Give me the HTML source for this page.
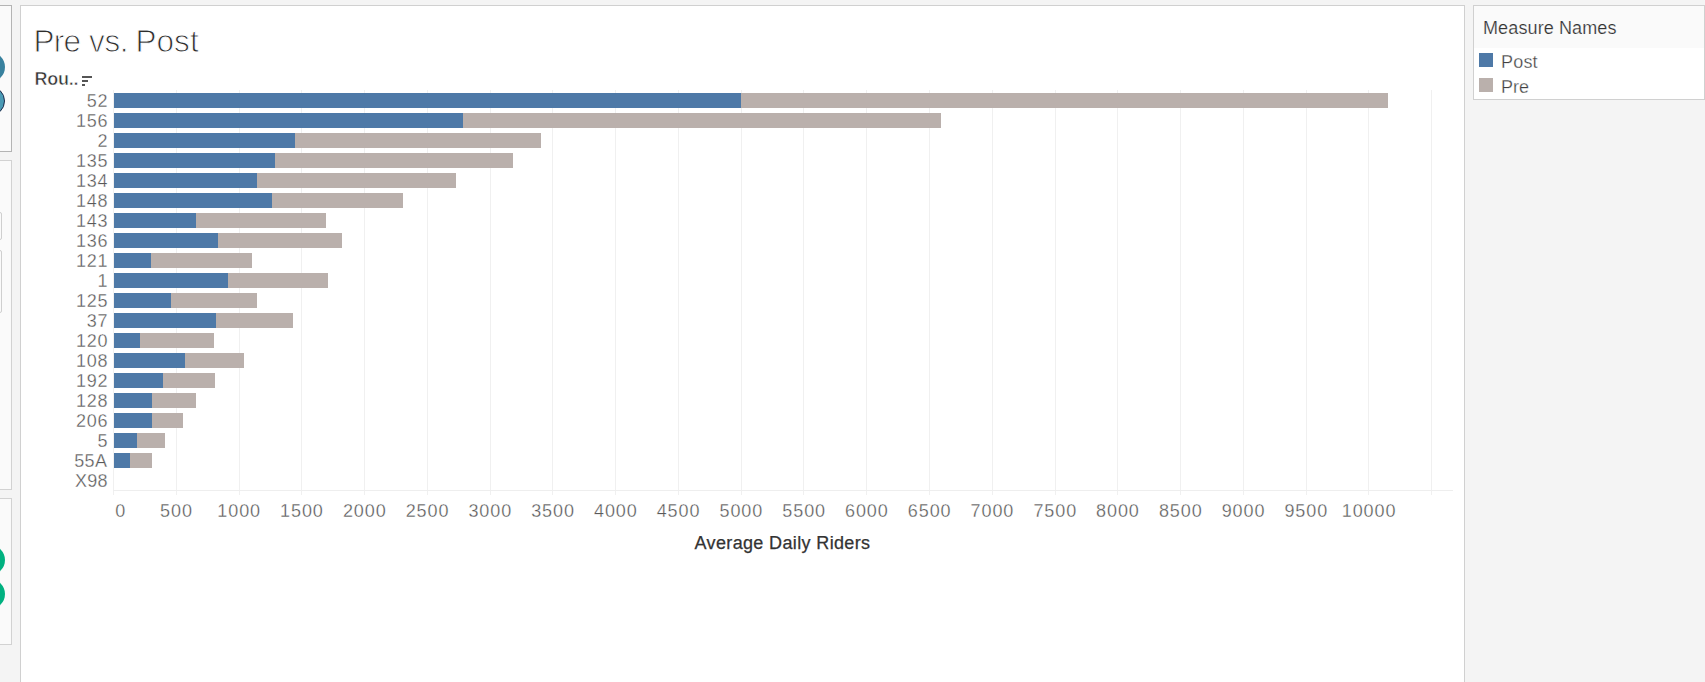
<!DOCTYPE html>
<html><head><meta charset="utf-8"><title>Pre vs. Post</title>
<style>
html,body{margin:0;padding:0;}
body{width:1705px;height:682px;overflow:hidden;background:#f4f4f4;position:relative;font-family:"Liberation Sans",sans-serif;}
div,span{position:absolute;box-sizing:border-box;white-space:nowrap;}
.lp{background:#fafafa;border:1px solid #d2d2d2;border-left:none;left:0;width:12px;}
.main{left:20px;top:5px;width:1445px;height:690px;background:#fff;border:1px solid #d0d0d0;}
.g{width:1px;top:90px;height:405px;background:#f0f0f0;}
.b{height:15px;background:#4e79a7;left:114px;}
.p{height:15px;background:#bab0ac;}
.rl{right:1596.8px;font-size:18px;line-height:20px;color:#585858;text-align:right;letter-spacing:.7px;-webkit-text-stroke:.3px #fff;}
.xl{font-size:18px;line-height:20px;color:#585858;top:501px;transform:translateX(-50%);letter-spacing:.9px;padding-left:.3px;-webkit-text-stroke:.3px #fff;}
.pill{left:-25px;width:30px;height:30px;border-radius:15px;}
</style></head><body>

<div class="lp" style="top:5px;height:147px;border-color:#b4b4b4"></div>
<div class="lp" style="top:160px;height:330px"></div>
<div class="lp" style="top:498px;height:147px"></div>
<div style="left:-6px;top:212px;width:8px;height:28px;border:1px solid #cfcfcf;border-radius:2px;background:#fafafa"></div>
<div style="left:-6px;top:250px;width:8px;height:63px;border:1px solid #cfcfcf;border-radius:2px;background:#fafafa"></div>
<div class="pill" style="top:52px;background:#38819e"></div>
<div class="pill" style="top:85.7px;background:#4a9ab5;border:1px solid #1c2a4a"></div>
<div class="pill" style="top:545px;background:#00b180"></div>
<div class="pill" style="top:579px;background:#00b180"></div>
<div class="main"></div>
<div style="left:1473px;top:5px;width:232px;height:95px;background:#fff;border:1px solid #d0d0d0"></div>
<div style="left:1474px;top:6px;width:230px;height:42px;background:#fafafa"></div>
<span id="mn" style="-webkit-text-stroke:.2px #fafafa;letter-spacing:.12px;left:1483px;top:17px;font-size:18px;line-height:22px;color:#333">Measure Names</span>
<div style="left:1479px;top:53px;width:14px;height:14px;background:#4e79a7"></div>
<div style="left:1479px;top:78px;width:14px;height:14px;background:#bab0ac"></div>
<span id="lpost" style="left:1501px;top:52px;font-size:18px;line-height:20px;color:#404040;letter-spacing:.2px;-webkit-text-stroke:.3px #fff">Post</span>
<span id="lpre" style="left:1501px;top:77px;font-size:18px;line-height:20px;color:#404040;-webkit-text-stroke:.3px #fff">Pre</span>
<span style="left:33.4px;top:23.2px;font-size:31.5px;line-height:36px;color:#2e2e2e;-webkit-text-stroke:.95px #fff;letter-spacing:-.65px">Pre</span>
<span style="left:89.1px;top:23.2px;font-size:31.5px;line-height:36px;color:#2e2e2e;-webkit-text-stroke:.95px #fff;letter-spacing:-.4px">vs.</span>
<span style="left:135.4px;top:23.2px;font-size:31.5px;line-height:36px;color:#2e2e2e;-webkit-text-stroke:.95px #fff;letter-spacing:.1px">Post</span>
<span id="rou" style="left:34.6px;top:69px;font-size:18px;line-height:20px;font-weight:bold;color:#333;letter-spacing:-.3px;-webkit-text-stroke:.55px #fff">Rou..</span>
<div style="left:82px;top:76px;width:10px;height:2px;background:#555"></div>
<div style="left:82px;top:80px;width:6px;height:2px;background:#555"></div>
<div style="left:82px;top:84px;width:3px;height:2px;background:#555"></div>
<div class="g" style="left:113px"></div>
<div class="g" style="left:176px"></div>
<div class="g" style="left:239px"></div>
<div class="g" style="left:301px"></div>
<div class="g" style="left:364px"></div>
<div class="g" style="left:427px"></div>
<div class="g" style="left:490px"></div>
<div class="g" style="left:552px"></div>
<div class="g" style="left:615px"></div>
<div class="g" style="left:678px"></div>
<div class="g" style="left:741px"></div>
<div class="g" style="left:803px"></div>
<div class="g" style="left:866px"></div>
<div class="g" style="left:929px"></div>
<div class="g" style="left:992px"></div>
<div class="g" style="left:1055px"></div>
<div class="g" style="left:1117px"></div>
<div class="g" style="left:1180px"></div>
<div class="g" style="left:1243px"></div>
<div class="g" style="left:1306px"></div>
<div class="g" style="left:1368px"></div>
<div class="g" style="left:1431px"></div>
<div style="left:113px;top:490px;width:1340px;height:1px;background:#eeeeee"></div>
<div class="p" style="left:741px;top:93px;width:647px"></div>
<div class="b" style="top:93px;width:627px"></div>
<span class="rl" style="top:91px">52</span>
<div class="p" style="left:463px;top:113px;width:478px"></div>
<div class="b" style="top:113px;width:349px"></div>
<span class="rl" style="top:111px">156</span>
<div class="p" style="left:295px;top:133px;width:246px"></div>
<div class="b" style="top:133px;width:181px"></div>
<span class="rl" style="top:131px">2</span>
<div class="p" style="left:275px;top:153px;width:238px"></div>
<div class="b" style="top:153px;width:161px"></div>
<span class="rl" style="top:151px">135</span>
<div class="p" style="left:257px;top:173px;width:199px"></div>
<div class="b" style="top:173px;width:143px"></div>
<span class="rl" style="top:171px">134</span>
<div class="p" style="left:272px;top:193px;width:131px"></div>
<div class="b" style="top:193px;width:158px"></div>
<span class="rl" style="top:191px">148</span>
<div class="p" style="left:196px;top:213px;width:130px"></div>
<div class="b" style="top:213px;width:82px"></div>
<span class="rl" style="top:211px">143</span>
<div class="p" style="left:218px;top:233px;width:124px"></div>
<div class="b" style="top:233px;width:104px"></div>
<span class="rl" style="top:231px">136</span>
<div class="p" style="left:151px;top:253px;width:101px"></div>
<div class="b" style="top:253px;width:37px"></div>
<span class="rl" style="top:251px">121</span>
<div class="p" style="left:228px;top:273px;width:100px"></div>
<div class="b" style="top:273px;width:114px"></div>
<span class="rl" style="top:271px">1</span>
<div class="p" style="left:171px;top:293px;width:86px"></div>
<div class="b" style="top:293px;width:57px"></div>
<span class="rl" style="top:291px">125</span>
<div class="p" style="left:216px;top:313px;width:77px"></div>
<div class="b" style="top:313px;width:102px"></div>
<span class="rl" style="top:311px">37</span>
<div class="p" style="left:140px;top:333px;width:74px"></div>
<div class="b" style="top:333px;width:26px"></div>
<span class="rl" style="top:331px">120</span>
<div class="p" style="left:185px;top:353px;width:59px"></div>
<div class="b" style="top:353px;width:71px"></div>
<span class="rl" style="top:351px">108</span>
<div class="p" style="left:163px;top:373px;width:52px"></div>
<div class="b" style="top:373px;width:49px"></div>
<span class="rl" style="top:371px">192</span>
<div class="p" style="left:152px;top:393px;width:44px"></div>
<div class="b" style="top:393px;width:38px"></div>
<span class="rl" style="top:391px">128</span>
<div class="p" style="left:152px;top:413px;width:31px"></div>
<div class="b" style="top:413px;width:38px"></div>
<span class="rl" style="top:411px">206</span>
<div class="p" style="left:137px;top:433px;width:28px"></div>
<div class="b" style="top:433px;width:23px"></div>
<span class="rl" style="top:431px">5</span>
<div class="p" style="left:130px;top:453px;width:22px"></div>
<div class="b" style="top:453px;width:16px"></div>
<span class="rl" style="top:451px;letter-spacing:.4px;right:1597.6px">55A</span>
<span class="rl" style="top:471px;letter-spacing:.2px;right:1597.3px">X98</span>
<span class="xl" style="left:120.6px">0</span>
<span class="xl" style="left:176.3px">500</span>
<span class="xl" style="left:239.0px">1000</span>
<span class="xl" style="left:301.8px">1500</span>
<span class="xl" style="left:364.6px">2000</span>
<span class="xl" style="left:427.4px">2500</span>
<span class="xl" style="left:490.1px">3000</span>
<span class="xl" style="left:552.9px">3500</span>
<span class="xl" style="left:615.7px">4000</span>
<span class="xl" style="left:678.4px">4500</span>
<span class="xl" style="left:741.2px">5000</span>
<span class="xl" style="left:804.0px">5500</span>
<span class="xl" style="left:866.7px">6000</span>
<span class="xl" style="left:929.5px">6500</span>
<span class="xl" style="left:992.3px">7000</span>
<span class="xl" style="left:1055.1px">7500</span>
<span class="xl" style="left:1117.8px">8000</span>
<span class="xl" style="left:1180.6px">8500</span>
<span class="xl" style="left:1243.4px">9000</span>
<span class="xl" style="left:1306.1px">9500</span>
<span class="xl" style="left:1368.9px">10000</span>
<span id="xt" style="left:694.5px;top:532.7px;font-size:18px;line-height:20px;color:#333;letter-spacing:.36px;-webkit-text-stroke:.25px #333">Average Daily Riders</span>
</body></html>
